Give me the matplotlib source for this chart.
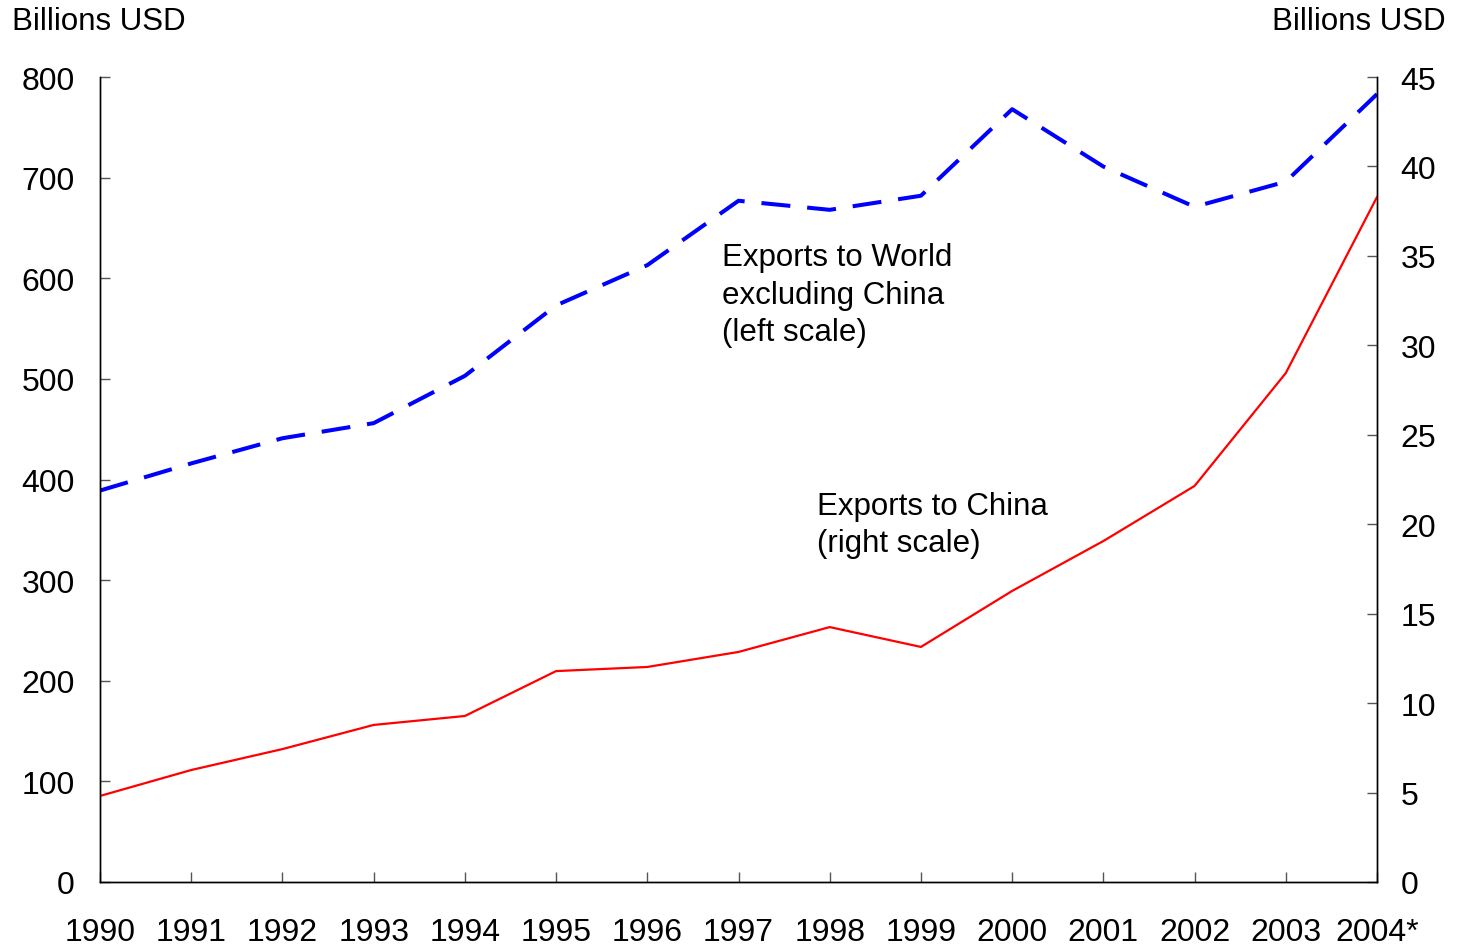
import matplotlib
matplotlib.use("Agg")
import matplotlib.pyplot as plt

years = ["1990", "1991", "1992", "1993", "1994", "1995", "1996", "1997",
         "1998", "1999", "2000", "2001", "2002", "2003", "2004*"]
world_ex_china = [389, 416, 441, 456, 503, 573, 613, 677, 668, 682, 768, 711, 671, 696, 783]
to_china = [4.81, 6.26, 7.43, 8.78, 9.28, 11.79, 12.02, 12.86, 14.25, 13.14,
            16.27, 19.06, 22.14, 28.45, 38.29]
left_ticks = [0, 100, 200, 300, 400, 500, 600, 700, 800]
right_ticks = [0, 5, 10, 15, 20, 25, 30, 35, 40, 45]

plt.rcParams['font.family'] = ['Liberation Sans', 'DejaVu Sans']
fs = 23
fs_txt = 22.5

fig = plt.figure(figsize=(14.57, 9.45), dpi=100)
ax = fig.add_axes([100/1457, 1-883/945, (1377-100)/1457, (883-78)/945])
ax2 = ax.twinx()

x = list(range(len(years)))
ax.plot(x, world_ex_china, color='#0000ff', lw=2.9, dashes=(7.2, 4.2))
ax2.plot(x, to_china, color='#ff0000', lw=1.6)

ax.set_xlim(0, len(years) - 1)
ax.set_ylim(0, 800)
ax2.set_ylim(0, 45)
ax.set_xticks(x)
ax.set_xticklabels(years)
ax.set_yticks(left_ticks)
ax2.set_yticks(right_ticks)

for a in (ax, ax2):
    a.spines['top'].set_visible(False)
    for s in a.spines.values():
        s.set_color('#000000')
        s.set_linewidth(1.0)
    a.tick_params(direction='in', length=7, width=1, color='#555555', labelsize=fs)
ax.tick_params(axis='x', pad=25)
ax.tick_params(axis='y', pad=18)
ax2.tick_params(axis='y', pad=17)

fig.text(12/1457, 1-22/945, "Billions USD", fontsize=fs_txt, ha='left', va='center')
fig.text(1446/1457, 1-22/945, "Billions USD", fontsize=fs_txt, ha='right', va='center')

ax.text(7 - 0.18, 583.5, "Exports to World\nexcluding China\n(left scale)",
        fontsize=fs_txt, ha='left', va='center', linespacing=1.32)
ax2.text(8 - 0.14, 20.0, "Exports to China\n(right scale)",
         fontsize=fs_txt, ha='left', va='center', linespacing=1.32)

fig.savefig("out.png", dpi=100)
